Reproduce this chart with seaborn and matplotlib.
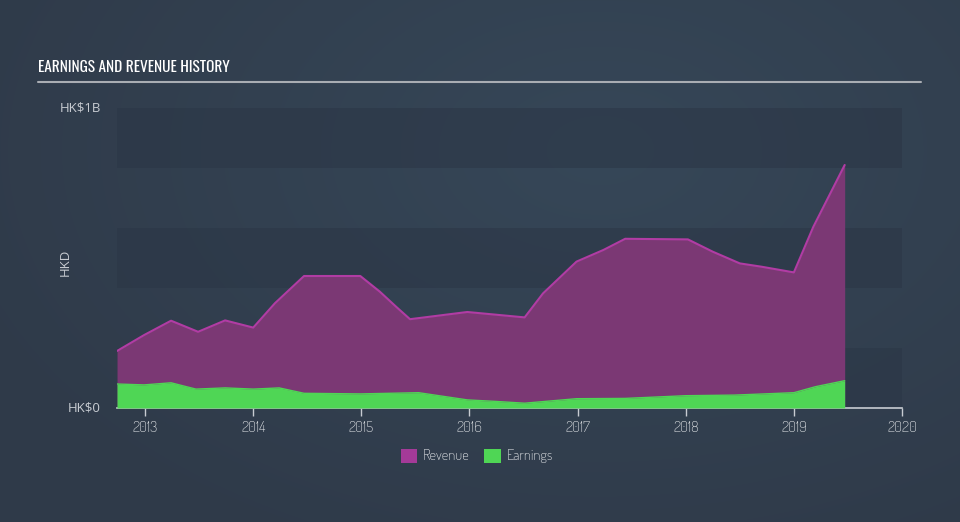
import numpy as np
import pandas as pd
import matplotlib
matplotlib.use("Agg")
import matplotlib.pyplot as plt
from matplotlib.patches import Patch
import seaborn as sns

# ---- data (HK$ billions) ----
rev_dates = [2012.74, 2012.99, 2013.24, 2013.49, 2013.74, 2014.00, 2014.20, 2014.47,
             2014.99, 2015.17, 2015.32, 2015.45, 2015.98, 2016.51, 2016.68, 2016.99,
             2017.24, 2017.44, 2018.02, 2018.25, 2018.50, 2018.70, 2019.00, 2019.18, 2019.47]
revenue = [0.19, 0.243, 0.291, 0.254, 0.292, 0.268, 0.349, 0.44,
           0.44, 0.388, 0.338, 0.296, 0.32, 0.302, 0.382, 0.488,
           0.527, 0.564, 0.562, 0.521, 0.482, 0.471, 0.452, 0.604, 0.81]
earn_dates = [2012.74, 2012.99, 2013.24, 2013.47, 2013.74, 2014.00, 2014.24, 2014.47,
              2014.99, 2015.53, 2015.98, 2016.24, 2016.51, 2016.99, 2017.44, 2018.00,
              2018.45, 2019.00, 2019.20, 2019.47]
earnings = [0.08, 0.077, 0.084, 0.063, 0.067, 0.063, 0.067, 0.049,
            0.047, 0.051, 0.027, 0.022, 0.016, 0.031, 0.032, 0.041,
            0.043, 0.051, 0.071, 0.091]
year_ticks = [2013, 2014, 2015, 2016, 2017, 2018, 2019, 2020]
ytick_vals = [0, 1.0]
ytick_labels = ["HK$0", "HK$1B"]

rev_df = pd.DataFrame({"date": rev_dates, "value": revenue})
earn_df = pd.DataFrame({"date": earn_dates, "value": earnings})

sns.set_theme(style="dark")
plt.rcParams["font.family"] = ["Open Sans", "DejaVu Sans"]

fig = plt.figure(figsize=(9.6, 5.22), dpi=100)
fig.patch.set_facecolor("#333f4f")

# subtle radial background glow
h, w = 522, 960
yy, xx = np.mgrid[0:h, 0:w]
d = np.sqrt(((xx - 600) / 700.0) ** 2 + ((yy - 150) / 450.0) ** 2)
t = np.clip(d, 0, 1)[..., None]
c_in = np.array([0x36, 0x47, 0x58]) / 255.0
c_out = np.array([0x2f, 0x3a, 0x49]) / 255.0
img = c_in * (1 - t) + c_out * t
fig.figimage(img, 0, 0, zorder=-10)

ax = fig.add_axes([117 / 960, 1 - 408 / 522, 785 / 960, 300 / 522])
ax.set_facecolor("none")
ax.set_xlim(2012.74, 2020.0)
ax.set_ylim(0, 1.0)

# alternating bands
for lo in (0.0, 0.4, 0.8):
    ax.axhspan(lo, lo + 0.2, color="#2b3646", alpha=0.55, lw=0, zorder=0)

ax.fill_between(rev_df["date"], rev_df["value"], color="#7b3874", lw=0, zorder=1)
sns.lineplot(data=rev_df, x="date", y="value", ax=ax, color="#b13ca4", lw=1.5, zorder=2)
ax.fill_between(earn_df["date"], earn_df["value"], color="#4fd655", lw=0, zorder=3)
sns.lineplot(data=earn_df, x="date", y="value", ax=ax, color="#4fd655", lw=1.0, zorder=4)

ax.set_xlabel("")
ax.set_ylabel("")
for s in ("top", "right", "left"):
    ax.spines[s].set_visible(False)
ax.spines["bottom"].set_color("#c8ccd2")
ax.spines["bottom"].set_linewidth(1.2)
ax.grid(False)

ax.set_xticks(year_ticks)
ax.set_xticklabels([str(y) for y in year_ticks])
ax.tick_params(axis="x", colors="#c8ccd2", labelcolor="#e2e5e8", length=6, width=1,
               direction="out", labelsize=11, pad=3, bottom=True)
for lbl in ax.get_xticklabels():
    lbl.set_family(["Dosis", "DejaVu Sans"])
    lbl.set_fontweight(600)
ax.set_yticks([])

# y labels
for v, lab in zip(ytick_vals, ytick_labels):
    fig.text(101 / 960, 1 - (408 - 300 * v) / 522, lab, ha="right", va="center",
             color="#c8ccd2", fontsize=9.5)
fig.text(65 / 960, 1 - 262 / 522, "HKD", rotation=90, ha="center", va="center",
         color="#c8ccd2", fontsize=9.5)

# title and rule
fig.text(38 / 960, 1 - 68 / 522, "EARNINGS AND REVENUE HISTORY", ha="left", va="center",
         color="white", fontsize=11, fontweight="bold", family=["Oswald", "DejaVu Sans"])
fig.add_artist(plt.Line2D([38 / 960, 921 / 960], [1 - 81.5 / 522] * 2,
                          color="#a9adb3", lw=1.5, transform=fig.transFigure))

# legend
handles = [Patch(facecolor="#a43a98", edgecolor="none", label="Revenue"),
           Patch(facecolor="#4fd655", edgecolor="none", label="Earnings")]
leg = fig.legend(handles=handles, loc="center", bbox_to_anchor=(477 / 960, 1 - 456 / 522),
                 ncol=2, frameon=False, prop={"family": "Dosis", "size": 10.5, "weight": 600},
                 handlelength=1.1, handleheight=1.1, handletextpad=0.4, columnspacing=1.0)
for txt in leg.get_texts():
    txt.set_color("#e8eaed")

fig.savefig("out.png", dpi=100, facecolor=fig.get_facecolor())
